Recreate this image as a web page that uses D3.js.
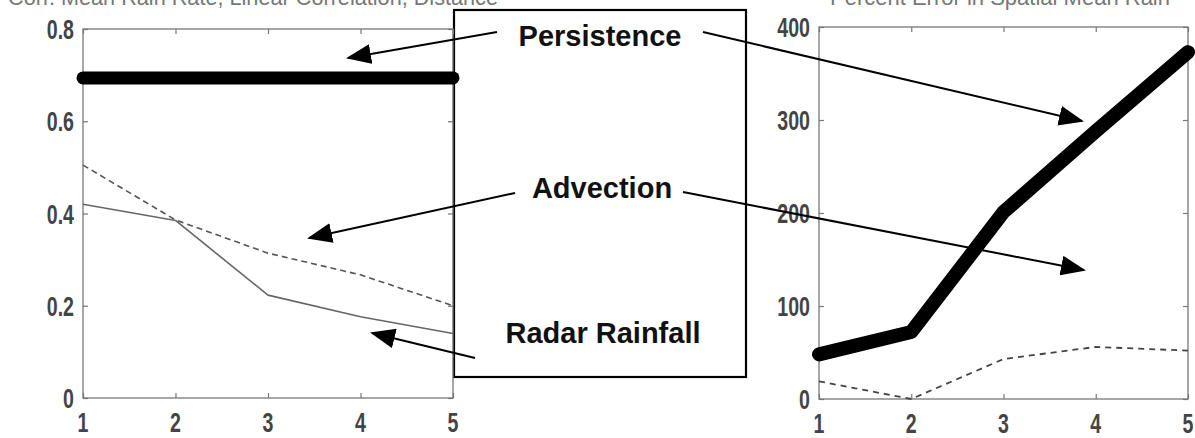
<!DOCTYPE html>
<html>
<head>
<meta charset="utf-8">
<script src="https://cdn.jsdelivr.net/npm/d3@7"></script>
<style>
  html, body { margin: 0; padding: 0; background: #fff; }
  svg { display: block; }
</style>
</head>
<body>
<svg id="chart" width="1195" height="438"></svg>
<script>
// Lead time (x) shared by both panels
const leadTimes = [1, 2, 3, 4, 5];

// Left panel: correlation
const leftPersistence = [0.694, 0.694, 0.694, 0.694, 0.694];
const leftAdvection   = [0.505, 0.386, 0.314, 0.267, 0.200];
const leftRadar       = [0.420, 0.385, 0.223, 0.176, 0.140];
const leftTicks = [0, 0.2, 0.4, 0.6, 0.8];

// Right panel: percent error
const rightPersistence = [48, 72, 201, 288, 373];
const rightAdvection   = [19, 0, 43, 56, 52];
const rightTicks = [0, 100, 200, 300, 400];

const leftTitle = "Corr. Mean Rain Rate, Linear Correlation, Distance";
const rightTitle = "Percent Error in Spatial Mean Rain";

const svg = d3.select("#chart");

const xL = d3.scaleLinear().domain([1, 5]).range([83, 453]);
const yL = d3.scaleLinear().domain([0, 0.8]).range([398, 29]);
const xR = d3.scaleLinear().domain([1, 5]).range([819, 1188]);
const yR = d3.scaleLinear().domain([0, 400]).range([399, 27]);

// Titles along the top edge (only their lower part fits in the view)
svg.append("text").attr("x", 8).attr("y", 5)
  .attr("font-family", "Liberation Sans, Arial, sans-serif")
  .attr("font-size", 22).attr("fill", "#777")
  .attr("textLength", 490).attr("lengthAdjust", "spacingAndGlyphs")
  .text(leftTitle);
svg.append("text").attr("x", 830).attr("y", 5)
  .attr("font-family", "Liberation Sans, Arial, sans-serif")
  .attr("font-size", 22).attr("fill", "#777")
  .attr("textLength", 340).attr("lengthAdjust", "spacingAndGlyphs")
  .text(rightTitle);

// Central legend box
svg.append("rect")
  .attr("x", 454).attr("y", 10).attr("width", 292).attr("height", 367)
  .attr("fill", "#fff").attr("stroke", "#000").attr("stroke-width", 2.2);

function drawPanel(x, y, ticks, fmt) {
  const g = svg.append("g");
  const frameColor = "#777";
  const [x0, x1] = x.range();
  const [y0, y1] = y.range();
  // frame
  g.append("rect")
    .attr("x", x0).attr("y", y1).attr("width", x1 - x0).attr("height", y0 - y1)
    .attr("fill", "none").attr("stroke", frameColor).attr("stroke-width", 1.3);
  // inward ticks on all four sides
  const axes = [
    [d3.axisBottom(x).tickValues(leadTimes), `translate(0,${y0})`],
    [d3.axisTop(x).tickValues(leadTimes), `translate(0,${y1})`],
    [d3.axisLeft(y).tickValues(ticks), `translate(${x0},0)`],
    [d3.axisRight(y).tickValues(ticks), `translate(${x1},0)`]
  ];
  axes.forEach(([ax, tr]) => {
    const a = g.append("g").attr("transform", tr)
      .call(ax.tickSize(-5).tickFormat(""));
    a.select(".domain").remove();
    a.selectAll("line").attr("stroke", frameColor).attr("stroke-width", 1.2);
  });
  // tick labels
  const font = "Liberation Sans, Arial, sans-serif";
  g.selectAll(".ylab").data(ticks).join("text")
    .attr("transform", d => `translate(${x0 - 9},${y(d) + 10}) scale(0.7,1)`)
    .attr("text-anchor", "end").attr("font-family", font)
    .attr("font-weight", "bold").attr("font-size", 28).attr("fill", "#444")
    .text(fmt);
  g.selectAll(".xlab").data(leadTimes).join("text")
    .attr("transform", d => `translate(${x(d)},${y0 + 34}) scale(0.7,1)`)
    .attr("text-anchor", "middle").attr("font-family", font)
    .attr("font-weight", "bold").attr("font-size", 28).attr("fill", "#444")
    .text(d => d);
  return g;
}

const gL = drawPanel(xL, yL, leftTicks, d => d === 0 ? "0" : d3.format(".1f")(d));
const gR = drawPanel(xR, yR, rightTicks, d => d);

function series(g, x, y, values, style) {
  const line = d3.line().x((d, i) => x(leadTimes[i])).y(d => y(d));
  g.append("path").datum(values)
    .attr("d", line)
    .attr("fill", "none")
    .attr("stroke", style.color)
    .attr("stroke-width", style.width)
    .attr("stroke-dasharray", style.dash || null)
    .attr("stroke-linecap", style.cap || "butt")
    .attr("stroke-linejoin", "round");
}

series(gL, xL, yL, leftAdvection, { color: "#555", width: 1.6, dash: "6,4" });
series(gL, xL, yL, leftRadar, { color: "#666", width: 1.6 });
series(gL, xL, yL, leftPersistence, { color: "#000", width: 13, cap: "round" });

series(gR, xR, yR, rightAdvection, { color: "#444", width: 1.8, dash: "6,5" });
series(gR, xR, yR, rightPersistence, { color: "#000", width: 14, cap: "round" });

// Legend labels
const labels = [
  { text: "Persistence", x: 600, y: 46 },
  { text: "Advection", x: 602, y: 198 },
  { text: "Radar Rainfall", x: 603, y: 343 }
];
svg.selectAll(".leg").data(labels).join("text")
  .attr("x", d => d.x).attr("y", d => d.y)
  .attr("text-anchor", "middle")
  .attr("font-family", "Liberation Sans, Arial, sans-serif")
  .attr("font-weight", "bold").attr("font-size", 29).attr("fill", "#111")
  .text(d => d.text);

// Pointer arrows from labels to curves
svg.append("defs").append("marker")
  .attr("id", "head").attr("viewBox", "0 0 25 20")
  .attr("refX", 23).attr("refY", 10)
  .attr("markerWidth", 25).attr("markerHeight", 20)
  .attr("markerUnits", "userSpaceOnUse").attr("orient", "auto")
  .append("path").attr("d", "M0,0 L25,10 L0,20 Z").attr("fill", "#000");

const arrows = [
  [497, 32, 348, 58],
  [703, 32, 1082, 121],
  [515, 193, 309, 238],
  [683, 192, 1084, 270],
  [475, 358, 372, 333]
];
svg.selectAll(".arrow").data(arrows).join("line")
  .attr("x1", d => d[0]).attr("y1", d => d[1])
  .attr("x2", d => d[2]).attr("y2", d => d[3])
  .attr("stroke", "#000").attr("stroke-width", 2)
  .attr("marker-end", "url(#head)");
</script>
</body>
</html>
